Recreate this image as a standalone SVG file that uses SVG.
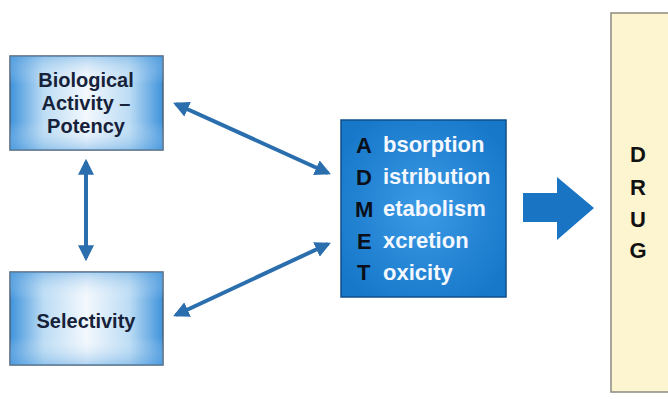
<svg xmlns="http://www.w3.org/2000/svg" width="668" height="403" viewBox="0 0 668 403">
  <defs>
    <linearGradient id="paleBlue" x1="0" y1="0" x2="1" y2="0">
      <stop offset="0" stop-color="#3f93dc"/>
      <stop offset="0.22" stop-color="#bcdcf4"/>
      <stop offset="0.5" stop-color="#f3f8fd"/>
      <stop offset="0.78" stop-color="#bcdcf4"/>
      <stop offset="1" stop-color="#3f93dc"/>
    </linearGradient>
    <linearGradient id="paleBlueV" x1="0" y1="0" x2="0" y2="1">
      <stop offset="0" stop-color="#5aa3e0" stop-opacity="0.45"/>
      <stop offset="0.3" stop-color="#ffffff" stop-opacity="0"/>
      <stop offset="0.7" stop-color="#ffffff" stop-opacity="0"/>
      <stop offset="1" stop-color="#5aa3e0" stop-opacity="0.45"/>
    </linearGradient>
    <radialGradient id="admetFill" cx="0.5" cy="0.5" r="0.6">
      <stop offset="0" stop-color="#3b9be6"/>
      <stop offset="1" stop-color="#1777c9"/>
    </radialGradient>
    <marker id="head" viewBox="0 0 10 10" refX="8" refY="5" markerWidth="4" markerHeight="4" orient="auto-start-reverse" markerUnits="strokeWidth">
      <path d="M0,0 L10,5 L0,10 Z" fill="#2a6eae"/>
    </marker>
    <style>
      .pale { stroke: #4d5f73; stroke-width: 1.5; }
      .lbl { font-family: "Liberation Sans", Arial, sans-serif; font-weight: bold; font-size: 20px; fill: #16223a; text-anchor: middle; }
      .cap { font-family: "Liberation Sans", Arial, sans-serif; font-weight: bold; font-size: 22px; fill: #0a0f1a; }
      .word { font-family: "Liberation Sans", Arial, sans-serif; font-weight: bold; font-size: 22px; fill: #f4f8ff; }
      .drug { font-family: "Liberation Sans", Arial, sans-serif; font-weight: bold; font-size: 22px; fill: #111111; text-anchor: middle; }
      .link { stroke: #2a6eae; stroke-width: 4; fill: none; marker-start: url(#head); marker-end: url(#head); }
    </style>
  </defs>

  <rect width="668" height="403" fill="#ffffff"/>

  <g id="potency">
    <rect x="10" y="56" width="153" height="94" fill="url(#paleBlue)" class="pale"/>
    <rect x="10" y="56" width="153" height="94" fill="url(#paleBlueV)"/>
    <text class="lbl" x="86" y="87">Biological</text>
    <text class="lbl" x="86" y="110">Activity –</text>
    <text class="lbl" x="86" y="133">Potency</text>
  </g>

  <g id="selectivity">
    <rect x="10" y="272" width="153" height="93" fill="url(#paleBlue)" class="pale"/>
    <rect x="10" y="272" width="153" height="93" fill="url(#paleBlueV)"/>
    <text class="lbl" x="86" y="328">Selectivity</text>
  </g>

  <g id="admet">
    <rect x="341" y="120" width="165" height="177" fill="url(#admetFill)" stroke="#0f4f88" stroke-width="1.5"/>
    <text class="cap" x="356" y="153">A</text>
    <text class="cap" x="356" y="185">D</text>
    <text class="cap" x="355" y="217">M</text>
    <text class="cap" x="357" y="249">E</text>
    <text class="cap" x="357" y="280">T</text>
    <text class="word" x="383" y="152">bsorption</text>
    <text class="word" x="383" y="184">istribution</text>
    <text class="word" x="383" y="216">etabolism</text>
    <text class="word" x="383" y="248">xcretion</text>
    <text class="word" x="383" y="280">oxicity</text>
  </g>

  <g id="drug">
    <rect x="611" y="13" width="70" height="379" fill="#fdf5cf" stroke="#8c8a80" stroke-width="1.5"/>
    <text class="drug" x="638" y="162">D</text>
    <text class="drug" x="638" y="195">R</text>
    <text class="drug" x="638" y="227">U</text>
    <text class="drug" x="638" y="258">G</text>
  </g>

  <g id="connectors">
    <line class="link" x1="176" y1="104" x2="328" y2="173"/>
    <line class="link" x1="176" y1="315" x2="328" y2="244"/>
    <line class="link" x1="86" y1="162" x2="86" y2="258"/>
    <polygon points="523,193 557,193 557,177 594,208 557,240 557,222 523,222" fill="#1a74c4"/>
  </g>
</svg>
